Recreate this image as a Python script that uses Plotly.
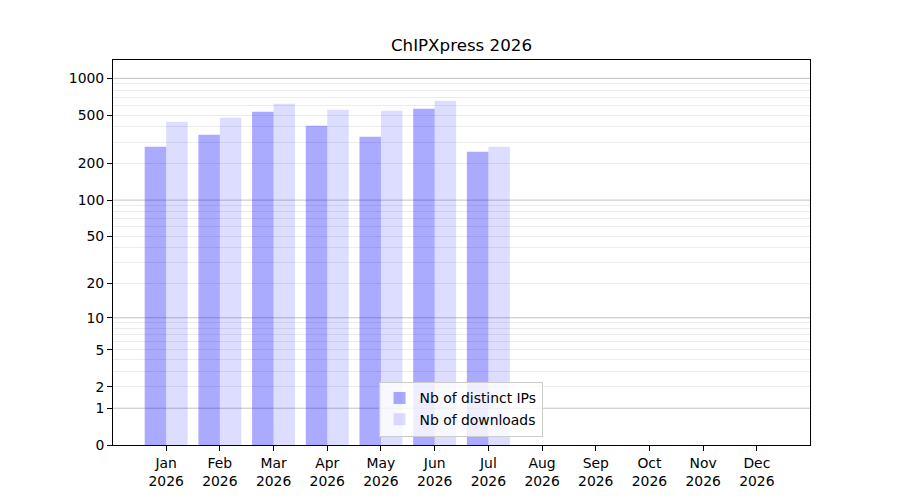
import plotly.graph_objects as go

# monthly stats
months = ["Jan", "Feb", "Mar", "Apr", "May", "Jun", "Jul", "Aug", "Sep", "Oct", "Nov", "Dec"]
year = "2026"
distinct_ips = [275, 345, 533, 409, 332, 564, 250, 0, 0, 0, 0, 0]
downloads = [441, 475, 620, 553, 543, 656, 275, 0, 0, 0, 0, 0]

# y axis labels (scale is log10(1 + n))
y_labels = [0, 1, 2, 5, 10, 20, 50, 100, 200, 500, 1000]
y_major_grid = [1, 10, 100, 1000]
y_minor_grid = [m * d for d in (1, 10, 100) for m in range(2, 10)]

FONT = "DejaVu Sans"
pos = list(range(len(months)))


def shift(vals):
    # log axis of n+1 gives the log10(1+n) look, 0 sits at the bottom
    return [v + 1 for v in vals]


fig = go.Figure()
fig.add_trace(go.Bar(
    x=pos, y=shift(distinct_ips), name="Nb of distinct IPs",
    offset=-0.4, width=0.4,
    marker=dict(color="rgba(0,0,255,0.333)", line=dict(width=0)),
))
fig.add_trace(go.Bar(
    x=pos, y=shift(downloads), name="Nb of downloads",
    offset=0, width=0.4,
    marker=dict(color="rgba(0,0,255,0.135)", line=dict(width=0)),
))

for v in y_major_grid:
    fig.add_shape(type="line", xref="paper", x0=0, x1=1, yref="y", y0=v + 1, y1=v + 1,
                  line=dict(color="rgba(180,180,180,0.8)", width=1), layer="between")

# page body has an 8px margin, so the figure is a bit smaller than the window
fig.update_layout(
    width=892, height=492,
    margin=dict(l=105, r=90, t=52, b=55),
    paper_bgcolor="white", plot_bgcolor="white",
    barmode="overlay",
    font=dict(family=FONT, size=13.9, color="black"),
    title=dict(text="ChIPXpress 2026", x=0.5, xref="paper", xanchor="center",
               y=0.924, yref="container", yanchor="middle",
               font=dict(family=FONT, size=16.7, color="black")),
    legend=dict(x=0.381, y=0.022, xanchor="left", yanchor="bottom",
                bgcolor="rgba(255,255,255,0.8)", bordercolor="#cccccc", borderwidth=1,
                font=dict(family=FONT, size=13.9), tracegroupgap=0),
    showlegend=True,
)
fig.update_xaxes(
    range=[-0.99, 11.99],
    tickmode="array", tickvals=pos, ticktext=[f"{m}<br>{year}" for m in months],
    ticks="outside", ticklen=5, tickwidth=1, tickcolor="black",
    showline=True, linecolor="black", linewidth=1, mirror=True,
    showgrid=False, zeroline=False,
)
fig.update_yaxes(
    type="log", range=[0, 3.151],
    tickmode="array", tickvals=shift(y_labels), ticktext=[str(v) for v in y_labels],
    ticks="outside", ticklen=5, tickwidth=1, tickcolor="black",
    showline=True, linecolor="black", linewidth=1, mirror=True,
    showgrid=False, zeroline=False,
    minor=dict(tickmode="array", tickvals=shift(y_minor_grid), ticks="",
               showgrid=True, gridcolor="rgba(200,200,200,0.35)", gridwidth=1),
)

fig.write_html("out.html")
